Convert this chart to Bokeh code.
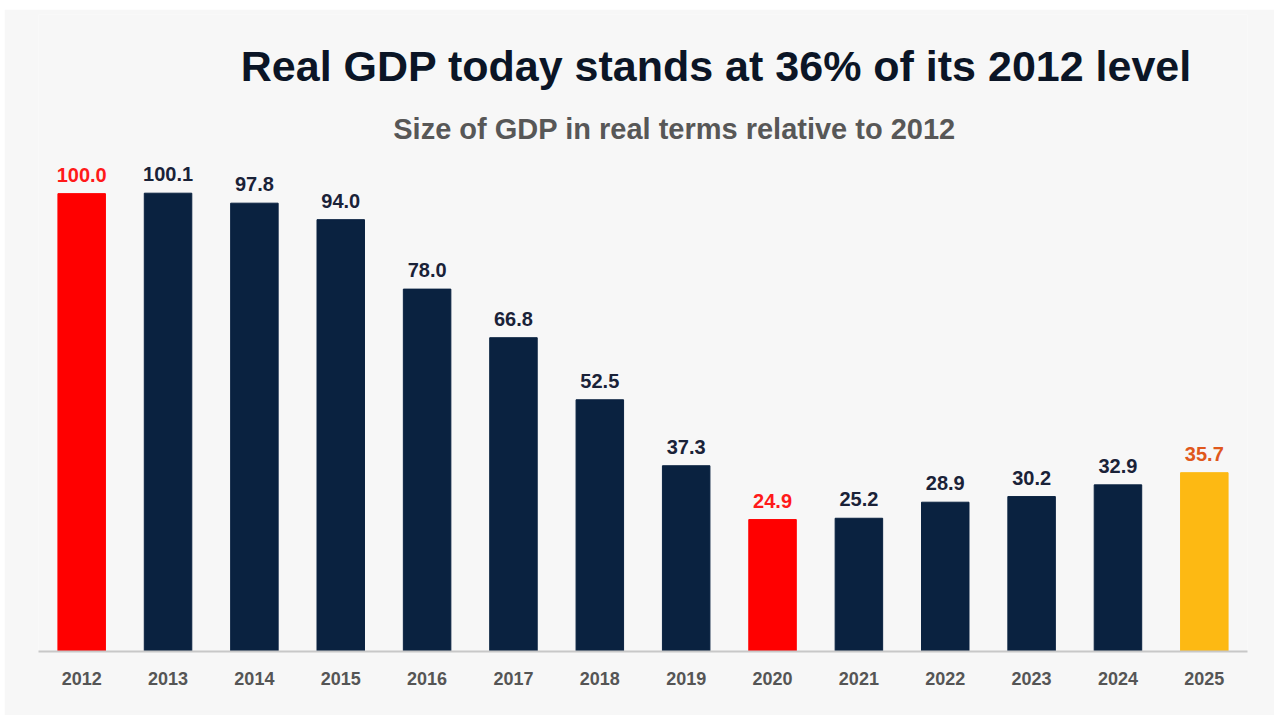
from bokeh.plotting import figure
from bokeh.models import Label, ColumnDataSource, FactorRange, Range1d
from bokeh.embed import file_html
from bokeh.resources import INLINE

years = ["2012", "2013", "2014", "2015", "2016", "2017", "2018", "2019",
         "2020", "2021", "2022", "2023", "2024", "2025"]
values = [100.0, 100.1, 97.8, 94.0, 78.0, 66.8, 52.5, 37.3,
          24.9, 25.2, 28.9, 30.2, 32.9, 35.7]
bar_colors = ["#ff0000"] + ["#0a2240"] * 7 + ["#ff0000"] + ["#0a2240"] * 4 + ["#fdb913"]
label_colors = ["#ff1a1a"] + ["#1a2238"] * 7 + ["#ff1a1a"] + ["#1a2238"] * 4 + ["#e0581c"]
title_text = "Real GDP today stands at 36% of its 2012 level"
subtitle_text = "Size of GDP in real terms relative to 2012"

BASE = -5.5
PX_PER_UNIT = 4.34
W, H = 1270, 706
B_LEFT, B_RIGHT, B_TOP, B_BOTTOM = 34, 27, 5, 64
y_end = BASE + (H - B_TOP - B_BOTTOM) / PX_PER_UNIT

src = ColumnDataSource(dict(
    year=years, value=values, color=bar_colors, lcolor=label_colors,
    label=[f"{v:.1f}" for v in values], base=[BASE] * len(years),
))

p = figure(width=W, height=H, x_range=FactorRange(*years, range_padding=0),
           y_range=Range1d(BASE, y_end), output_backend="svg",
           toolbar_location=None, min_border_left=B_LEFT, min_border_right=B_RIGHT,
           min_border_top=B_TOP, min_border_bottom=B_BOTTOM)
p.margin = (9, 0, 0, 4)
p.background_fill_color = "#f7f7f7"
p.border_fill_color = "#f7f7f7"
p.outline_line_color = None

p.vbar(x="year", top="value", bottom="base", width=0.55, color="color", source=src)
p.text(x="year", y="value", text="label", text_color="lcolor", source=src,
       text_align="center", text_baseline="bottom", y_offset=-12,
       text_font_size="20px", text_font_style="bold",
       text_font={"value": "Liberation Sans"})

p.yaxis.visible = False
p.xgrid.grid_line_color = None
p.ygrid.grid_line_color = None
ax = p.xaxis[0]
ax.axis_line_color = "#c8c8c8"
ax.axis_line_width = 2
ax.major_tick_line_color = None
ax.minor_tick_line_color = None
ax.major_label_text_font_size = "18px"
ax.major_label_text_font_style = "bold"
ax.major_label_text_color = "#555555"
ax.major_label_text_font = "Liberation Sans"
ax.major_label_standoff = 14

# title and subtitle positioned in data space
p.add_layout(Label(x=7.85, y=BASE + (651 - 65) / PX_PER_UNIT, text=title_text,
                   text_align="center", text_baseline="alphabetic",
                   text_font_size="43px", text_font_style="bold",
                   text_font="Liberation Sans", text_color="#0b1526"))
p.add_layout(Label(x=7.365, y=BASE + (651 - 128) / PX_PER_UNIT, text=subtitle_text,
                   text_align="center", text_baseline="alphabetic",
                   text_font_size="29px", text_font_style="bold",
                   text_font="Liberation Sans", text_color="#575757"))

open("out.html", "w").write(file_html(p, INLINE))
